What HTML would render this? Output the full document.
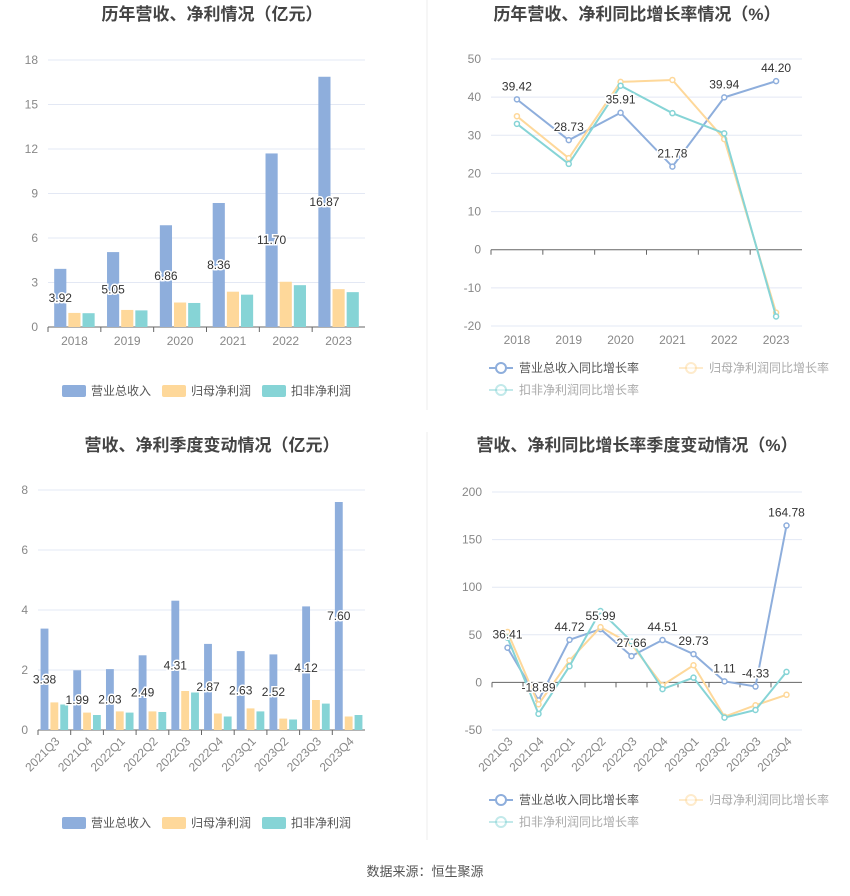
<!DOCTYPE html>
<html><head><meta charset="utf-8"><style>
body{margin:0;background:#fff;width:850px;height:891px;overflow:hidden;font-family:"Liberation Sans","Noto Sans CJK SC",sans-serif}
svg text{font-family:"Liberation Sans","Noto Sans CJK SC",sans-serif}
</style></head><body>
<svg id="s" width="850" height="891">
<line x1="427" y1="0" x2="427" y2="410" stroke="#eee"/>
<line x1="427" y1="432" x2="427" y2="840" stroke="#eee"/>
<text x="212" y="20" text-anchor="middle" font-size="17" font-weight="bold" fill="#444">历年营收、净利情况（亿元）</text>
<text x="637" y="20" text-anchor="middle" font-size="17" font-weight="bold" fill="#444">历年营收、净利同比增长率情况（%）</text>
<text x="212" y="451" text-anchor="middle" font-size="17" font-weight="bold" fill="#444">营收、净利季度变动情况（亿元）</text>
<text x="637" y="451" text-anchor="middle" font-size="17" font-weight="bold" fill="#444">营收、净利同比增长率季度变动情况（%）</text>
<text x="425" y="876" text-anchor="middle" font-size="13" fill="#555">数据来源：恒生聚源</text>
</svg>
<script>
const years=["2018","2019","2020","2021","2022","2023"];
const yRev=[3.92,5.05,6.86,8.36,11.70,16.87];
const yNet=[0.95,1.15,1.65,2.38,3.05,2.55];
const yDed=[0.93,1.12,1.62,2.18,2.82,2.35];
const yTicks1=[0,3,6,9,12,15,18];
const gRev=[39.42,28.73,35.91,21.78,39.94,44.20];
const gNet=[35,24,44,44.5,29,-16.5];
const gDed=[33,22.5,43,35.8,30.5,-17.5];
const yTicks2=[-20,-10,0,10,20,30,40,50];
const quarters=["2021Q3","2021Q4","2022Q1","2022Q2","2022Q3","2022Q4","2023Q1","2023Q2","2023Q3","2023Q4"];
const qRev=[3.38,1.99,2.03,2.49,4.31,2.87,2.63,2.52,4.12,7.60];
const qNet=[0.92,0.58,0.62,0.62,1.30,0.55,0.72,0.38,1.00,0.45];
const qDed=[0.85,0.50,0.58,0.60,1.25,0.45,0.62,0.35,0.88,0.50];
const yTicks3=[0,2,4,6,8];
const qgRev=[36.41,-18.89,44.72,55.99,27.66,44.51,29.73,1.11,-4.33,164.78];
const qgNet=[53,-23,23,58,40,-3,18,-36,-24,-13];
const qgDed=[47,-33,17,75,43,-7,5,-37,-29,11];
const yTicks4=[-50,0,50,100,150,200];
const C=["#8eaedc","#fed89a","#86d4d6"];
const S=document.getElementById('s');const NS="http://www.w3.org/2000/svg";
function mk(t,a,txt){const e=document.createElementNS(NS,t);for(const k in a)e.setAttribute(k,a[k]);if(txt!==undefined)e.textContent=txt;S.appendChild(e);return e;}
function axis(x0,x1,yT,yB,ticks,cats,rot){
 const mn=ticks[0],mx=ticks[ticks.length-1];
 const y=v=>yB-(v-mn)/(mx-mn)*(yB-yT);
 const bw=(x1-x0)/cats.length;const x=i=>x0+bw*(i+0.5);
 ticks.forEach(t=>{
  const g=mk('line',{x1:x0,x2:x1,y1:y(t),y2:y(t),stroke:t===0?"#666":"#e3e8f4"});
  
  const l=mk('text',{x:x0-10,y:y(t)+4,'text-anchor':'end','font-size':12,fill:'#888'},String(t));
  
 });
 cats.forEach((c,i)=>{
  const tk=mk('line',{x1:x0+bw*i,x2:x0+bw*i,y1:y(0),y2:y(0)+5,stroke:'#666'});
  
  let l;
  if(rot){l=mk('text',{x:x(i)+6,y:yB+12,'text-anchor':'end','font-size':12,fill:'#888',transform:`rotate(-45 ${x(i)+6} ${yB+12})`},c);}
  else l=mk('text',{x:x(i),y:yB+18,'text-anchor':'middle','font-size':12,fill:'#888'},c);
  
 });
 return {x,y,bw};
}
function lbl(x,y,t){const e=mk('text',{x:x,y:y,'text-anchor':'middle','font-size':12,fill:'#333',stroke:'#fff','stroke-width':3,'paint-order':'stroke'},t);
 }
function bars(ax,series,labels,bwFrac){
 const n=series.length;const w=ax.bw*bwFrac;
 series.forEach((arr,s)=>arr.forEach((v,i)=>{
  const cx=ax.x(i)-(n*w+(n-1)*2)/2+s*(w+2);
  const r=mk('rect',{x:cx,y:ax.y(v),width:w,height:ax.y(0)-ax.y(v),fill:C[s]});
  
 }));
 labels.forEach((v,i)=>lbl(ax.x(i)-(n*w+(n-1)*2)/2+w/2,ax.y(v/2)+4,v.toFixed(2)));
}
function lines(ax,series,labels){
 series.forEach((arr,s)=>{
  const p=mk('polyline',{points:arr.map((v,i)=>ax.x(i)+','+ax.y(v)).join(' '),fill:'none',stroke:C[s],'stroke-width':2});
  
  arr.forEach((v,i)=>{const c=mk('circle',{cx:ax.x(i),cy:ax.y(v),r:2.5,fill:'#fff',stroke:C[s],'stroke-width':1.5});
   });
 });
 labels.forEach((v,i)=>lbl(ax.x(i),ax.y(v)-9,v.toFixed(2)));
}
function legend(items,x,y,line,active){
 items.forEach((t,i)=>{
  const xx=x+(i%2)*(line?190:110)*(line?1:1), yy=y+Math.floor(i/2)*22;
  const op=(line&&i>0)?0.5:1;
  if(line){const a=mk('line',{x1:xx,x2:xx+24,y1:yy,y2:yy,stroke:C[i],'stroke-width':2,opacity:op});
   const c=mk('circle',{cx:xx+12,cy:yy,r:5,fill:'#fff',stroke:C[i],'stroke-width':2,opacity:op});}
  else{const r=mk('rect',{x:xx,y:yy-6,width:24,height:12,rx:2,fill:C[i]});}
  const tx=mk('text',{x:xx+30,y:yy+4,'font-size':12,fill:(line&&i>0)?'#aaa':'#555'},t);
  
 });
}
const a1=axis(48,365,60,327,yTicks1,years,false);
bars(a1,[yRev,yNet,yDed],yRev,0.23);
const bleg=["营业总收入","归母净利润","扣非净利润"];
const lleg=["营业总收入同比增长率","归母净利润同比增长率","扣非净利润同比增长率"];
// custom legend positions
(function(){const L=[[62,391],[162,391],[262,391]];L.forEach((p,i)=>{const r=mk('rect',{x:p[0],y:p[1]-6,width:24,height:12,rx:2,fill:C[i]});const t=mk('text',{x:p[0]+29,y:p[1]+4,'font-size':12,fill:'#555'},bleg[i]);});})();
const a2=axis(491,802,59,326,yTicks2,years,false);
lines(a2,[gRev,gNet,gDed],gRev);
legend(lleg,489,368,true);
const a3=axis(38,365,490,730,yTicks3,quarters,true);
bars(a3,[qRev,qNet,qDed],qRev,0.24);
(function(){const L=[[62,823],[162,823],[262,823]];L.forEach((p,i)=>{const r=mk('rect',{x:p[0],y:p[1]-6,width:24,height:12,rx:2,fill:C[i]});const t=mk('text',{x:p[0]+29,y:p[1]+4,'font-size':12,fill:'#555'},bleg[i]);});})();
const a4=axis(492,802,492,730,yTicks4,quarters,true);
lines(a4,[qgRev,qgNet,qgDed],qgRev);
legend(lleg,489,800,true);
</script>
</body></html>
